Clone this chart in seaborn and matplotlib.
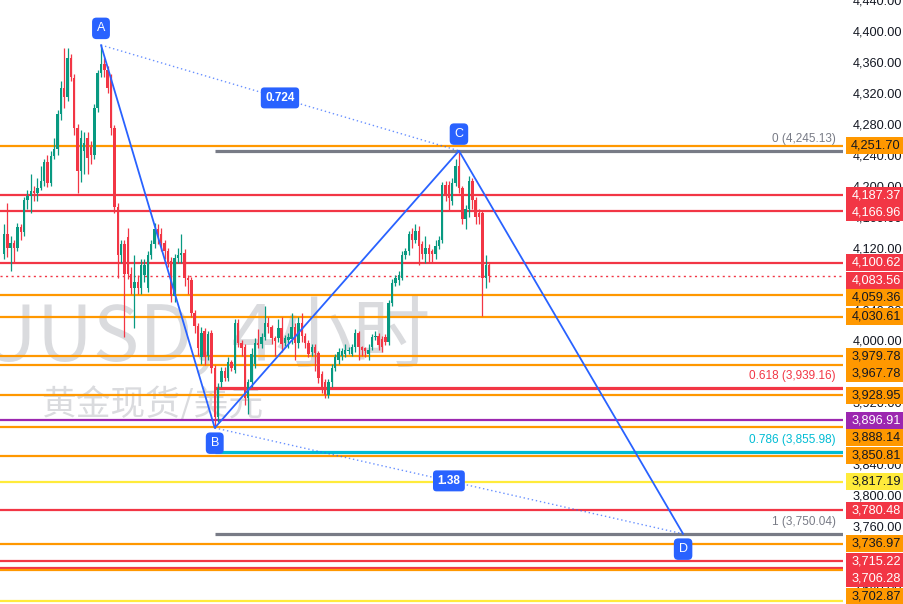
import matplotlib
matplotlib.use("Agg")
import matplotlib.pyplot as plt
import matplotlib.transforms as mtransforms
from matplotlib.patches import Rectangle
import numpy as np
import pandas as pd
import seaborn as sns

# 4h candles, oldest first
opens = [
    4112, 4138, 4120, 4126, 4120, 4146, 4140, 4181, 4187, 4193,
    4190, 4197, 4206, 4230, 4203, 4239, 4248, 4293, 4326, 4314,
    4365, 4339, 4274, 4219, 4245, 4262, 4250, 4240, 4301, 4346,
    4357, 4350, 4340, 4274, 4172, 4110, 4125, 4134, 4086, 4068,
    4075, 4068, 4085, 4068, 4110, 4125, 4144, 4138, 4126, 4116,
    4103, 4058, 4106, 4110, 4113, 4081, 4078, 4036, 4019, 3978,
    4012, 3980, 4010, 3965, 3901, 3946, 3961, 3952, 3972, 3962,
    4023, 3997, 3992, 3926, 3946, 3970, 3997, 3996, 4004, 4023,
    4017, 4003, 4003, 4016, 3997, 4001, 4002, 4017, 3997, 4023,
    4006, 3997, 3985, 3991, 3984, 3957, 3946, 3929, 3946, 3965,
    3975, 3980, 3983, 3986, 3983, 3991, 4009, 3991, 3990, 3983,
    3991, 4004, 4006, 4002, 4004, 3998, 4048, 4074, 4078, 4081,
    4110, 4116, 4138, 4130, 4142, 4125, 4112, 4120, 4115, 4112,
    4122, 4130, 4201, 4201, 4180, 4204, 4226, 4197, 4157, 4170,
    4206, 4181, 4165, 4165, 4081, 4097,
]
highs = [
    4150, 4178, 4135, 4130, 4152, 4150, 4185, 4195, 4215, 4200,
    4210, 4225, 4235, 4240, 4245, 4262, 4298, 4335, 4378, 4378,
    4370, 4345, 4280, 4272, 4270, 4270, 4258, 4305, 4350, 4381.8,
    4365, 4355, 4345, 4278, 4178, 4130, 4130, 4145, 4095, 4110,
    4085, 4105, 4105, 4115, 4130, 4152, 4150, 4145, 4130, 4120,
    4108, 4112, 4120, 4138, 4118, 4085, 4082, 4040, 4022, 4018,
    4016, 4012, 4014, 3968, 3945, 3966, 3966, 3978, 3975, 4028,
    4028, 4000, 3995, 3950, 3990, 4003, 4015, 4010, 4045, 4030,
    4020, 4006, 4028, 4030, 4007, 4010, 4035, 4022, 4030, 4035,
    4010, 4000, 3995, 3995, 3987, 3960, 3950, 3950, 3970, 3982,
    3990, 3990, 3995, 3992, 3996, 4015, 4012, 3993, 3992, 3995,
    4008, 4012, 4010, 4006, 4008, 4052, 4080, 4085, 4090, 4115,
    4120, 4142, 4145, 4150, 4148, 4128, 4135, 4125, 4118, 4130,
    4135, 4205, 4206, 4206, 4210, 4235, 4245.13, 4200, 4175, 4212,
    4210, 4185, 4170, 4168, 4110, 4100,
]
lows = [
    4105, 4108, 4090, 4100, 4115, 4130, 4135, 4170, 4165, 4180,
    4180, 4195, 4200, 4198, 4200, 4235, 4240, 4285, 4300, 4310,
    4335, 4265, 4190, 4205, 4215, 4215, 4228, 4235, 4295, 4340,
    4340, 4320, 4265, 4165, 4081, 4100, 4004, 4080, 4060, 4016,
    4060, 4060, 4075, 4062, 4105, 4120, 4125, 4115, 4105, 4095,
    4050, 4050, 4100, 4100, 4070, 4060, 4030, 4010, 3980, 3970,
    3968, 3975, 3958, 3887, 3895, 3940, 3948, 3948, 3960, 3958,
    3992, 3980, 3916, 3905, 3940, 3965, 3990, 3990, 4000, 4010,
    3995, 3980, 3998, 3985, 3993, 3990, 3995, 3975, 3990, 3998,
    3990, 3978, 3980, 3960, 3945, 3932, 3926, 3926, 3940, 3960,
    3970, 3975, 3978, 3982, 3980, 3985, 3975, 3980, 3978, 3975,
    3988, 4000, 3988, 3985, 3994, 3994, 4044, 4070, 4072, 4078,
    4105, 4110, 4120, 4126, 4097, 4105, 4100, 4100, 4100, 4105,
    4118, 4126, 4180, 4168, 4175, 4200, 4190, 4150, 4144, 4160,
    4170, 4150, 4150, 4032, 4068, 4075,
]
closes = [
    4138, 4120, 4126, 4120, 4146, 4140, 4181, 4187, 4193, 4190,
    4197, 4206, 4230, 4203, 4239, 4248, 4293, 4326, 4314, 4365,
    4340, 4274, 4219, 4262, 4255, 4236, 4240, 4301, 4346, 4357,
    4350, 4326, 4274, 4172, 4110, 4125, 4086, 4086, 4068, 4075,
    4068, 4097, 4097, 4110, 4125, 4144, 4138, 4126, 4116, 4100,
    4058, 4106, 4110, 4113, 4081, 4078, 4036, 4019, 3990, 4010,
    3978, 4008, 3964, 3901, 3939, 3961, 3952, 3972, 3965, 4023,
    3997, 3990, 3926, 3946, 3983, 3997, 3994, 4004, 4023, 4017,
    4003, 3999, 4016, 3995, 4003, 4005, 4017, 3997, 4023, 4006,
    3997, 3983, 3991, 3984, 3951, 3938, 3929, 3946, 3965, 3978,
    3985, 3986, 3988, 3988, 3991, 4009, 3991, 3988, 3986, 3988,
    4004, 4006, 3994, 3992, 3998, 4048, 4074, 4081, 4084, 4110,
    4116, 4138, 4130, 4142, 4122, 4112, 4120, 4112, 4112, 4122,
    4130, 4201, 4187, 4184, 4204, 4226, 4197, 4157, 4170, 4206,
    4181, 4160, 4159, 4081, 4097, 4083.56,
]

# horizontal price levels drawn across the pane
level_prices = [4251.70, 4187.37, 4166.96, 4100.62, 4083.56, 4059.36, 4030.61,
                3979.78, 3967.78, 3928.95, 3896.91, 3888.14, 3850.81, 3817.19,
                3780.48, 3736.97, 3715.22, 3706.28, 3702.87, 3663.00]
level_kinds = ["orange", "red", "red", "red", "last", "orange", "orange",
               "orange", "orange", "orange", "purple", "orange", "orange", "yellow",
               "red", "orange", "red", "red", "orange", "yellow"]
level_tagged = [True] * 19 + [False]

# ABCD harmonic pattern (bar index, price)
pattern_names = ["A", "B", "C", "D"]
pattern_bars = [29, 63, 136, 203]
pattern_prices = [4381.8, 3887.0, 4245.13, 3750.04]

# fib retracement C -> D, as labelled on the chart
fib_ratios = ["0", "0.618", "0.786", "1"]
fib_prices = [4245.13, 3939.16, 3855.98, 3750.04]
fib_kinds = ["gray", "red", "cyan", "gray"]

price_ticks = np.arange(3680, 4441, 40)

COLORS = {
    "orange": "#ff9800", "red": "#f23645", "last": "#f23645", "purple": "#9c27b0",
    "yellow": "#ffeb3b", "gray": "#787b86", "cyan": "#00bcd4",
}
GREEN, RED, BLUE = "#089981", "#f23645", "#2962ff"

sns.set_theme(style="white")
plt.rcParams["font.family"] = ["Liberation Sans", "DejaVu Sans"]

W, H, PANE_W = 904, 604, 843
fig = plt.figure(figsize=(W / 100, H / 100), dpi=100)
ax = fig.add_axes([0, 0, PANE_W / W, 1])
ymin, ymax = 3659.4, 4438.7
xmin, xmax = -1.19, 250.8

# watermark
wm_font = ["Noto Sans CJK SC", "DejaVu Sans"]
ax.text(0.19, 0.44, "XAUUSD, 4小时", transform=ax.transAxes, ha="center", va="center",
        fontsize=56, color="#dadbde", family=wm_font, zorder=0)
ax.text(0.18, 0.33, "黄金现货/美元", transform=ax.transAxes, ha="center", va="center",
        fontsize=25, color="#dadbde", family=wm_font, zorder=0)

# horizontal levels
for p, k in zip(level_prices, level_kinds):
    if k == "last":
        ax.axhline(p, color=COLORS[k], lw=1.0, ls=(0, (1.5, 2.5)), zorder=2)
    else:
        ax.axhline(p, color=COLORS[k], lw=1.6, zorder=2)

# fib levels
for r, p, k in zip(fib_ratios, fib_prices, fib_kinds):
    ax.hlines(p, pattern_bars[1], xmax, color=COLORS[k], lw=2.3, zorder=2.2)
    ax.annotate(f"{r} ({p:,.2f})", xy=(1, p), xycoords=("axes fraction", "data"),
                xytext=(-5, 8.5), textcoords="offset points", ha="right", va="center",
                fontsize=8.5, color=COLORS[k], zorder=3)

# candles
idx = np.arange(len(closes))
o, h, l, c = (np.array(v, dtype=float) for v in (opens, highs, lows, closes))
cols = np.where(c >= o, GREEN, RED)
ax.vlines(idx, l, h, colors=cols, lw=0.9, zorder=3)
ax.bar(idx, np.maximum(np.abs(c - o), 0.8), bottom=np.minimum(o, c), width=0.72,
       color=cols, lw=0, zorder=4)

# ABCD pattern
pattern = pd.DataFrame({"bar": pattern_bars, "price": pattern_prices})
sns.lineplot(data=pattern, x="bar", y="price", sort=False, estimator=None,
             color=BLUE, lw=1.3, ax=ax, zorder=5)
for i, j, fmt in [(0, 2, "{:.3f}"), (1, 3, "{:.2f}")]:
    ax.plot([pattern_bars[i], pattern_bars[j]], [pattern_prices[i], pattern_prices[j]],
            color=BLUE, lw=1.0, ls=(0, (1, 2)), alpha=0.7, zorder=5)
    if i == 0:
        ratio = (pattern_prices[2] - pattern_prices[1]) / (pattern_prices[0] - pattern_prices[1])
    else:
        ratio = (pattern_prices[2] - pattern_prices[3]) / (pattern_prices[2] - pattern_prices[1])
    ax.text((pattern_bars[i] + pattern_bars[j]) / 2, (pattern_prices[i] + pattern_prices[j]) / 2,
            fmt.format(ratio), ha="center", va="center", fontsize=8.5, color="white",
            fontweight="bold", zorder=7,
            bbox=dict(boxstyle="round,pad=0.38,rounding_size=0.3", fc=BLUE, ec="none"))

for n, (name, b, p) in enumerate(zip(pattern_names, pattern_bars, pattern_prices)):
    dy = 12 if n % 2 == 0 else -11
    ax.annotate(name, xy=(b, p), xytext=(0, dy), textcoords="offset points",
                ha="center", va="center", fontsize=9, color="white", zorder=7,
                bbox=dict(boxstyle="round,pad=0.38,rounding_size=0.35", fc=BLUE, ec="none"))

ax.set_xlim(xmin, xmax)
ax.set_ylim(ymin, ymax)
ax.set_xlabel("")
ax.set_ylabel("")
ax.set_xticks([])
ax.yaxis.tick_right()
ax.set_yticks(price_ticks)
ax.set_yticklabels([f"{v:,.2f}" for v in price_ticks])
ax.tick_params(axis="y", length=0, pad=7, labelsize=9.2, labelcolor="#131722")
for s in ax.spines.values():
    s.set_visible(False)

# price tags on the right scale, pushed apart so they do not overlap
unit_px = H / (ymax - ymin)
gap = 17.5 / unit_px
box_h = 17 / unit_px
trans = mtransforms.blended_transform_factory(ax.transAxes, ax.transData)
bx, bw = 846 / PANE_W, 60 / PANE_W
prev = None
for p, k, tagged in sorted(zip(level_prices, level_kinds, level_tagged), key=lambda t: -t[0]):
    if not tagged:
        continue
    y = p if prev is None else min(p, prev - gap)
    prev = y
    ax.add_patch(Rectangle((bx, y - box_h / 2), bw, box_h, transform=trans,
                           fc=COLORS[k], ec="none", clip_on=False, zorder=8))
    txt_col = "#131722" if k in ("orange", "yellow") else "white"
    ax.text(bx + bw / 2, y, f"{p:,.2f}", transform=trans, ha="center", va="center",
            fontsize=9.2, color=txt_col, clip_on=False, zorder=9)

fig.savefig("out.png", dpi=100, facecolor="white")
